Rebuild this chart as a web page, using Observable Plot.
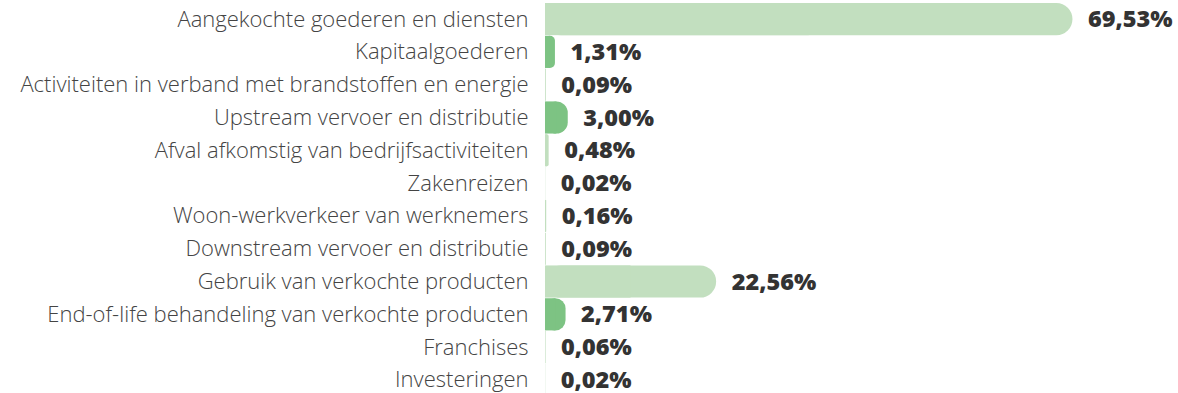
<!DOCTYPE html>
<html>
<head>
<meta charset="utf-8">
<script src="https://cdn.jsdelivr.net/npm/d3@7"></script>
<script src="https://cdn.jsdelivr.net/npm/@observablehq/plot@0.6"></script>
<style>
  html, body { margin: 0; padding: 0; background: #fff; overflow: hidden; }
  #chart svg { display: block; }
</style>
</head>
<body>
<div id="chart"></div>
<script>
// Scope 3 emission categories and their share of the total (%)
const categories = [
  "Aangekochte goederen en diensten",
  "Kapitaalgoederen",
  "Activiteiten in verband met brandstoffen en energie",
  "Upstream vervoer en distributie",
  "Afval afkomstig van bedrijfsactiviteiten",
  "Zakenreizen",
  "Woon-werkverkeer van werknemers",
  "Downstream vervoer en distributie",
  "Gebruik van verkochte producten",
  "End-of-life behandeling van verkochte producten",
  "Franchises",
  "Investeringen"
];
const shares = [69.53, 1.31, 0.09, 3.00, 0.48, 0.02, 0.16, 0.09, 22.56, 2.71, 0.06, 0.02];
const tones = ["licht", "donker", "licht", "donker", "licht", "licht", "licht", "licht", "licht", "donker", "licht", "licht"];

const data = categories.map((c, i) => ({category: c, share: shares[i], tone: tones[i]}));
const fmt = v => d3.format(".2f")(v).replace(".", ",") + "%";

const chart = Plot.plot({
  width: 1178,
  height: 393,
  marginLeft: 545,
  marginRight: 102,
  marginTop: 3,
  marginBottom: -3,
  style: {fontFamily: "'Open Sans', sans-serif", color: "#444", background: "#fff"},
  x: {domain: [0, 70], axis: null},
  y: {domain: categories, paddingInner: 0.02, paddingOuter: 0, round: false, label: null},
  color: {domain: ["licht", "donker"], range: ["#c2dfbf", "#7dc383"]},
  marks: [
    Plot.axisY({tickSize: 0, tickPadding: 17, fontSize: 22, fontWeight: 300, label: null}),
    // rounded bar
    Plot.barX(data, {y: "category", x: "share", fill: "tone", rx: 16, className: "rond"}),
    // square off the left end of each bar
    Plot.barX(data, {y: "category", x1: 0, x2: d => d.share / 2, fill: "tone"}),
    Plot.text(data, {
      y: "category", x: "share", text: d => fmt(d.share),
      dx: 15, textAnchor: "start", fontSize: 23.5, fontWeight: 800,
      fontFamily: "'Open Sans', sans-serif", fill: "#333"
    })
  ]
});

// keep the corner radius circular on short bars
d3.select(chart).selectAll(".rond rect").each(function() {
  const w = +this.getAttribute("width");
  const h = +this.getAttribute("height");
  const r = Math.min(16, w / 2, h / 2);
  this.setAttribute("rx", r);
  this.setAttribute("ry", r);
});

document.getElementById("chart").appendChild(chart);
</script>
</body>
</html>
